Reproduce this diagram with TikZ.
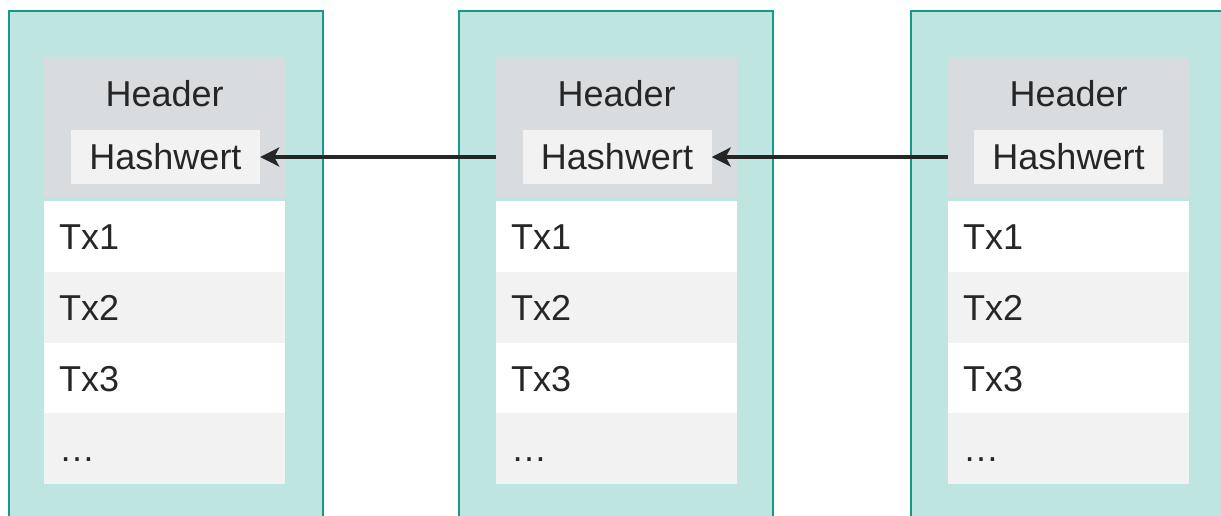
\documentclass[tikz,border=0pt]{standalone}
\usepackage{fontspec}
\setmainfont{Liberation Sans}
\usetikzlibrary{arrows.meta}
\definecolor{blockfill}{HTML}{BFE5E1}
\definecolor{blockline}{HTML}{17998A}
\definecolor{headgray}{HTML}{D9DCDF}
\definecolor{rowgray}{HTML}{F2F2F2}
\definecolor{inkgray}{HTML}{262626}
\begin{document}
\begin{tikzpicture}[x=1pt,y=-1pt,
    block/.style={draw=blockline,line width=2.4pt,fill=blockfill,anchor=north west,
      minimum width=314pt,minimum height=540pt,inner sep=0pt},
    header/.style={fill=headgray,anchor=north west,minimum width=241pt,
      minimum height=140pt,inner sep=0pt},
    txt/.style={text=inkgray,font=\fontsize{36}{40}\selectfont,
      text height=25.8pt,text depth=0pt},
    title/.style={txt,inner sep=0pt,anchor=north},
    hash/.style={txt,fill=rowgray,minimum width=189pt,minimum height=54pt,inner sep=0pt},
    txrow/.style={txt,anchor=north west,text width=211pt,align=left,
      inner xsep=15pt,inner ysep=0pt,minimum height=71pt},
    link/.style={draw=inkgray,line width=4.8pt,
      -{Stealth[length=19pt,width=19pt,inset=5pt]}}]
  \clip (0,0) rectangle (1221,515);
  % block 1
  \node[block] (b1) at (8,10) {};
  \node[header] (hd1) at (44,57) {};
  \node[title] (ti1) at ([yshift=-23pt]hd1.north) {Header};
  \node[hash] (hs1) at (165.5,157) {Hashwert};
  \node[txrow,fill=white] (r11) at (44,201) {Tx1};
  \node[txrow,fill=rowgray] (r12) at (44,272) {Tx2};
  \node[txrow,fill=white] (r13) at (44,343) {Tx3};
  \node[txrow,fill=rowgray] (r14) at (44,413) {\dots};
  % block 2
  \node[block] (b2) at (458,10) {};
  \node[header] (hd2) at (496,57) {};
  \node[title] (ti2) at ([yshift=-23pt]hd2.north) {Header};
  \node[hash] (hs2) at (617,157) {Hashwert};
  \node[txrow,fill=white] (r21) at (496,201) {Tx1};
  \node[txrow,fill=rowgray] (r22) at (496,272) {Tx2};
  \node[txrow,fill=white] (r23) at (496,343) {Tx3};
  \node[txrow,fill=rowgray] (r24) at (496,413) {\dots};
  % block 3
  \node[block] (b3) at (910,10) {};
  \node[header] (hd3) at (948,57) {};
  \node[title] (ti3) at ([yshift=-23pt]hd3.north) {Header};
  \node[hash] (hs3) at (1068.5,157) {Hashwert};
  \node[txrow,fill=white] (r31) at (948,201) {Tx1};
  \node[txrow,fill=rowgray] (r32) at (948,272) {Tx2};
  \node[txrow,fill=white] (r33) at (948,343) {Tx3};
  \node[txrow,fill=rowgray] (r34) at (948,413) {\dots};
  % links
  \draw[link] (hd2.west |- hs1.east) -- (hs1.east);
  \draw[link] (hd3.west |- hs2.east) -- (hs2.east);
\end{tikzpicture}
\end{document}
